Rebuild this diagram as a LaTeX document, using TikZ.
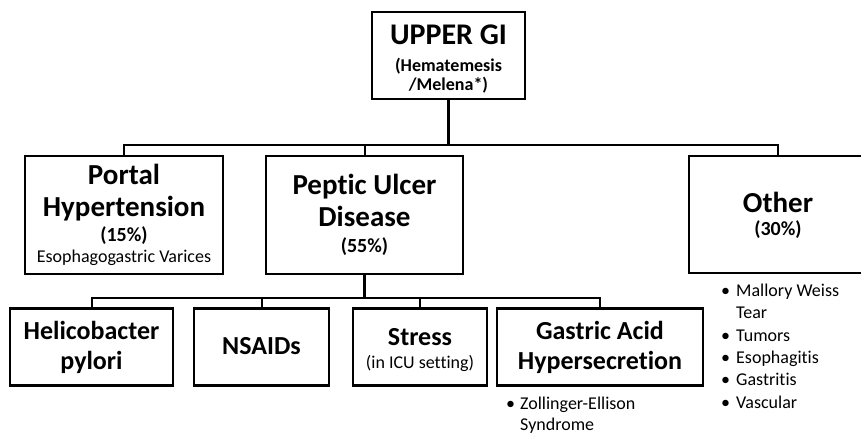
\documentclass[tikz,border=0pt]{standalone}
\usepackage{fontspec}
\setmainfont{Carlito}[Ligatures={NoCommon,NoContextual}]
\newcommand\fsTitle{\fontsize{30}{36}\selectfont\bfseries}
\newcommand\fsHead{\fontsize{29}{34}\selectfont\bfseries}
\newcommand\fsLow{\fontsize{26}{30}\selectfont\bfseries}
\newcommand\fsPct{\fontsize{20}{24}\selectfont\bfseries}
\newcommand\fsSmallB{\fontsize{18}{21}\selectfont\bfseries}
\newcommand\fsReg{\fontsize{18}{21}\selectfont}
\begin{document}
\begin{tikzpicture}[x=1pt,y=-1pt,
  box/.style={draw, line width=2.4pt, rectangle, inner sep=0pt, fill=white},
  conn/.style={line width=2pt},
  trunk/.style={line width=3pt},
  txt/.style={anchor=base, inner sep=0pt},
  lst/.style={anchor=base west, inner sep=0pt}]
\useasboundingbox (0,0) rectangle (861,435);
\clip (0,0) rectangle (861,435);
\fill[white] (0,0) rectangle (861,435);

% boxes
\node[box, minimum width=153pt, minimum height=87pt] (top) at (448.5,55.5) {};
\node[box, minimum width=198pt, minimum height=118pt] (portal) at (124,215) {};
\node[box, minimum width=197pt, minimum height=118pt] (peptic) at (364.5,215) {};
\node[box, minimum width=178pt, minimum height=117pt] (other) at (778,214.5) {};
\node[box, minimum width=163pt, minimum height=77pt] (hp) at (91.5,347) {};
\node[box, minimum width=135pt, minimum height=77pt] (nsaid) at (261.5,347) {};
\node[box, minimum width=134pt, minimum height=77pt] (stress) at (420,347) {};
\node[box, minimum width=206pt, minimum height=77pt] (gastric) at (600,347) {};

% connectors
\draw[trunk] (top.south) -- ++(0,45) coordinate (busA);
\draw[conn] (portal.north) -- (portal.north |- busA) -- (other.north |- busA) -- (other.north);
\draw[conn] (peptic.north) -- (peptic.north |- busA);
\draw[trunk] (peptic.south) -- ++(0,23) coordinate (busB);
\draw[conn] (hp.north) -- (hp.north |- busB) -- (gastric.north |- busB) -- (gastric.north);
\draw[conn] (nsaid.north) -- (nsaid.north |- busB);
\draw[conn] (stress.north) -- (stress.north |- busB);

% texts
\node[txt] (t1) at (448.5,45) {\fsTitle UPPER GI};
\node[txt] (t2) at (448.5,72) {\fsSmallB (Hematemesis};
\node[txt] (t3) at (448.5,91) {\fsSmallB /Melena*)};

\node[txt] (p1) at (124,185) {\fsHead Portal};
\node[txt] (p2) at (124,217) {\fsHead Hypertension};
\node[txt] (p3) at (124,242) {\fsPct (15\%)};
\node[txt] (p4) at (124,263) {\fsReg Esophagogastric Varices};

\node[txt] (u1) at (364.5,195) {\fsHead Peptic Ulcer};
\node[txt] (u2) at (364.5,227) {\fsHead Disease};
\node[txt] (u3) at (364.5,253) {\fsPct (55\%)};

\node[txt] (o1) at (778,213) {\fsHead Other};
\node[txt] (o2) at (778,236) {\fsPct (30\%)};

\node[txt] (h1) at (91.5,339) {\fsLow Helicobacter};
\node[txt] (h2) at (91.5,369) {\fsLow pylori};
\node[txt] (n1) at (261.5,354) {\fsLow NSAIDs};
\node[txt] (s1) at (420,345) {\fsLow Stress};
\node[txt] (s2) at (420,368) {\fsReg (in ICU setting)};
\node[txt] (g1) at (600,339) {\fsLow Gastric Acid};
\node[txt] (g2) at (600,369) {\fsLow Hypersecretion};

% bullet lists
\node[lst] (olist) at (721,297) {\fsReg\begin{tabular}[t]{@{}l@{}}
\makebox[15pt][l]{•}Mallory Weiss\\
\hspace*{15pt}Tear\\[2pt]
\makebox[15pt][l]{•}Tumors\\[1.5pt]
\makebox[15pt][l]{•}Esophagitis\\[1.5pt]
\makebox[15pt][l]{•}Gastritis\\[1.5pt]
\makebox[15pt][l]{•}Vascular
\end{tabular}};
\node[lst] (zlist) at (506,409) {\fsReg\begin{tabular}[t]{@{}l@{}}
\makebox[14pt][l]{•}Zollinger-Ellison\\
\hspace*{14pt}Syndrome
\end{tabular}};
\end{tikzpicture}
\end{document}
